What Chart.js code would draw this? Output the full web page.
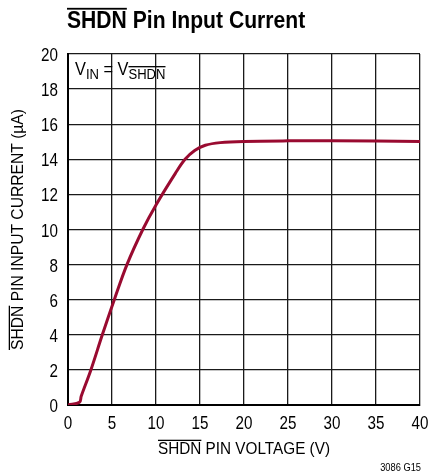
<!DOCTYPE html>
<html>
<head>
<meta charset="utf-8">
<script src="https://cdn.jsdelivr.net/npm/chart.js@4.4.0/dist/chart.umd.min.js"></script>
<style>
  html, body { margin: 0; padding: 0; background: #fff; }
  #wrap { width: 432px; height: 475px; position: relative; }
</style>
</head>
<body>
<div id="wrap"><canvas id="chart"></canvas></div>
<script>
// SHDN pin input current vs SHDN pin voltage
const voltage = [0, 1.3, 1.5, 2.6, 3.9, 5.26, 6.7, 8.5, 10, 12.2, 13.3, 14.4, 15.6, 17.3, 20, 25, 30, 40];
const current = [0, 0.15, 0.5, 2, 4, 6, 8, 10, 11.4, 13.2, 14.0, 14.5, 14.8, 14.95, 15.02, 15.05, 15.05, 15.02];

const xTicks = [0, 5, 10, 15, 20, 25, 30, 35, 40];
const yTicks = [0, 2, 4, 6, 8, 10, 12, 14, 16, 18, 20];

// no condensed Helvetica here, so Liberation Sans gets squeezed sideways
const FONT = "'Liberation Sans', Arial, sans-serif";

// draws a row of text pieces (some overlined, some subscript), squeezed by sx
function drawPieces(ctx, pieces, x, y, size, weight, sx) {
    ctx.save();
    ctx.translate(x, y);
    ctx.scale(sx, 1);
    let cx = 0;
    pieces.forEach(p => {
        const s = p.sub ? size * 0.8 : size;
        const dy = p.sub ? size * 0.2 : 0;
        ctx.font = weight + ' ' + s + 'px ' + FONT;
        ctx.fillText(p.t, cx, dy);
        const w = ctx.measureText(p.t).width;
        if (p.over) {
            ctx.fillRect(cx, dy - s * 0.84, w, weight === 'bold' ? 1.8 : 1.3);
        }
        cx += w;
    });
    ctx.restore();
}

function piecesWidth(ctx, pieces, size, weight, sx) {
    let w = 0;
    pieces.forEach(p => {
        const s = p.sub ? size * 0.8 : size;
        ctx.font = weight + ' ' + s + 'px ' + FONT;
        w += ctx.measureText(p.t).width;
    });
    return w * sx;
}

const textPlugin = {
    id: 'labels',
    afterDraw(chart) {
        const ctx = chart.ctx;
        const area = chart.chartArea;
        const xs = chart.scales.x;
        const ys = chart.scales.y;
        ctx.save();
        ctx.fillStyle = '#000';
        ctx.textBaseline = 'alphabetic';
        ctx.textAlign = 'left';

        // tick labels, placed by the chart's own scales
        ctx.font = '19px ' + FONT;
        xs.ticks.forEach(t => {
            const w = ctx.measureText(String(t.value)).width * 0.8;
            drawPieces(ctx, [{t: String(t.value)}], xs.getPixelForValue(t.value) - w / 2, 429, 19, 'normal', 0.8);
        });
        ys.ticks.forEach(t => {
            ctx.font = '19px ' + FONT;
            const w = ctx.measureText(String(t.value)).width * 0.8;
            drawPieces(ctx, [{t: String(t.value)}], 58 - w, ys.getPixelForValue(t.value) + 7, 19, 'normal', 0.8);
        });

        // title
        drawPieces(ctx, [{t: 'SHDN', over: true}, {t: ' Pin Input Current'}], 67, 28, 24, 'bold', 0.88);

        // annotation in the plot
        drawPieces(ctx, [{t: 'V'}, {t: 'IN', sub: true}, {t: ' = V'}, {t: 'SHDN', sub: true, over: true}],
            75, 75, 19, 'normal', 0.86);

        // x axis title
        const xt = [{t: 'SHDN', over: true}, {t: ' PIN VOLTAGE (V)'}];
        const xw = piecesWidth(ctx, xt, 17, 'normal', 0.9);
        drawPieces(ctx, xt, (area.left + area.right) / 2 - xw / 2, 454, 17, 'normal', 0.9);

        // y axis title
        const yt = [{t: 'SHDN', over: true}, {t: ' PIN INPUT CURRENT (\u00b5A)'}];
        const yw = piecesWidth(ctx, yt, 17, 'normal', 0.92);
        ctx.save();
        ctx.translate(23, (area.top + area.bottom) / 2);
        ctx.rotate(-Math.PI / 2);
        drawPieces(ctx, yt, -yw / 2, 0, 17, 'normal', 0.92);
        ctx.restore();

        // figure code
        ctx.font = '10px ' + FONT;
        const cw = ctx.measureText('3086 G15').width * 0.93;
        drawPieces(ctx, [{t: '3086 G15'}], 421 - cw, 471, 10, 'normal', 0.93);
        ctx.restore();
    }
};

const shdnChart = new Chart(document.getElementById('chart'), {
    type: 'line',
    data: {
        datasets: [{
            data: voltage.map((v, i) => ({x: v, y: current[i]})),
            borderColor: '#990a30',
            borderWidth: 3,
            pointRadius: 0,
            fill: false,
            tension: 0.35
        }]
    },
    options: {
        responsive: true,
        maintainAspectRatio: false,
        animation: false,
        layout: {
            padding: { top: 54, right: 12, bottom: 0, left: 0 }
        },
        plugins: {
            legend: { display: false },
            tooltip: { enabled: false }
        },
        scales: {
            x: {
                type: 'linear',
                min: 0,
                max: 40,
                afterFit: scale => { scale.height = 70; },
                afterBuildTicks: scale => { scale.ticks = xTicks.map(v => ({value: v})); },
                grid: { color: '#1a1a1a', lineWidth: 1.3, drawTicks: false },
                border: { color: '#000', width: 2 },
                ticks: { display: false }
            },
            y: {
                min: 0,
                max: 20,
                afterFit: scale => { scale.width = 68; },
                afterBuildTicks: scale => { scale.ticks = yTicks.map(v => ({value: v})); },
                grid: { color: '#1a1a1a', lineWidth: 1.3, drawTicks: false },
                border: { color: '#000', width: 2 },
                ticks: { display: false }
            }
        }
    },
    plugins: [textPlugin]
});
</script>
</body>
</html>
